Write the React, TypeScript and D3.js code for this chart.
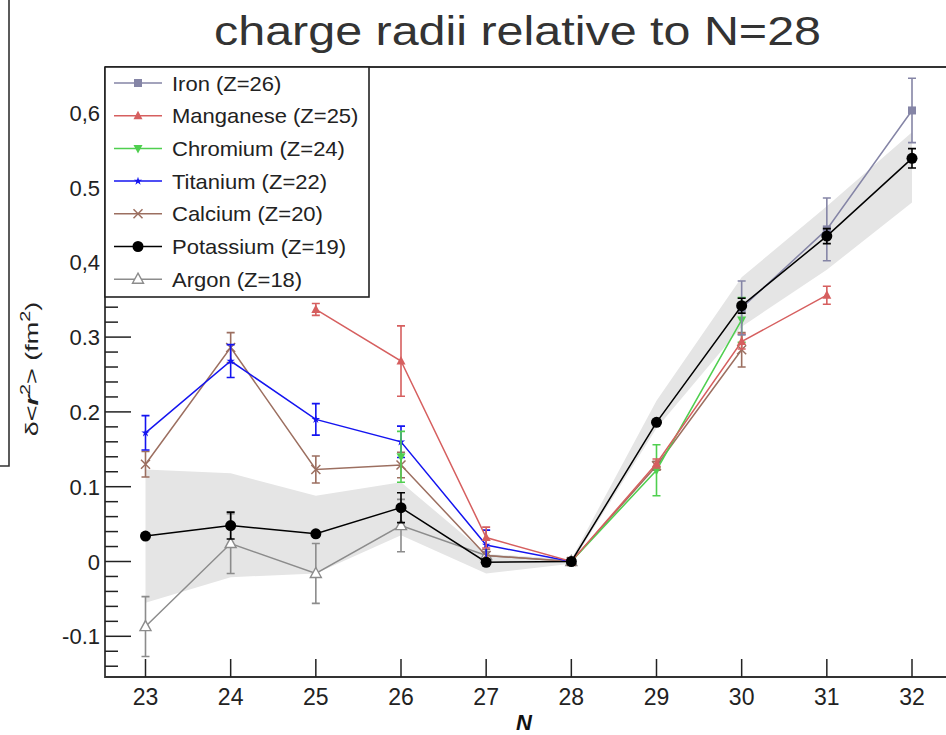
import React from "react";
import * as d3 from "d3";

const ironN = [30, 31, 32];
const ironV = [0.339, 0.444, 0.603];
const ironE = [0.036, 0.042, 0.043];

const mnN = [25, 26, 27, 28, 29, 30, 31];
const mnV = [0.337, 0.268, 0.032, 0, 0.131, 0.294, 0.356];
const mnE = [0.008, 0.047, 0.014, 0, 0.006, 0.01, 0.012];

const crN = [26, 27, 28, 29, 30];
const crV: (number | null)[] = [0.14, null, 0, 0.122, 0.323];
const crE = [0.034, 0, 0, 0.034, 0.03];

const tiN = [23, 24, 25, 26, 27, 28];
const tiV = [0.172, 0.268, 0.19, 0.16, 0.022, 0];
const tiE = [0.023, 0.022, 0.021, 0.021, 0.02, 0];

const caN = [23, 24, 25, 26, 27, 28, 29, 30];
const caV = [0.13, 0.286, 0.123, 0.129, 0.008, 0, 0.128, 0.283];
const caE = [0.017, 0.02, 0.018, 0.017, 0.008, 0, 0.006, 0.023];

const kN = [23, 24, 25, 26, 27, 28, 29, 30, 31, 32];
const kV = [0.034, 0.048, 0.037, 0.072, -0.001, 0, 0.186, 0.342, 0.435, 0.539];
const kE = [0.003, 0.018, 0.003, 0.02, 0.003, 0, 0.003, 0.01, 0.01, 0.013];

const arN = [23, 24, 25, 26, 27, 28];
const arV = [-0.087, 0.024, -0.016, 0.048, 0.008, 0];
const arE = [0.04, 0.04, 0.04, 0.035, 0.005, 0];

const bandN = [23, 24, 25, 26, 27, 28, 29, 30, 31, 32];
const bandHi = [0.123, 0.118, 0.088, 0.106, 0.01, 0.003, 0.215, 0.38, 0.475, 0.574];
const bandLo = [-0.055, -0.021, -0.016, 0.035, -0.016, -0.003, 0.178, 0.314, 0.39, 0.48];

const xTicks = [23, 24, 25, 26, 27, 28, 29, 30, 31, 32];
const yTickVals = [-0.1, 0, 0.1, 0.2, 0.3, 0.4, 0.5, 0.6];
const yTickLabels = ["-0.1", "0", "0.1", "0.2", "0.3", "0,4", "0.5", "0,6"];

const titleText = "charge radii relative to N=28";

type Marker = "square" | "triUp" | "triDown" | "star" | "cross" | "circle" | "openTri";

const series = [
  { name: "Iron (Z=26)", color: "#8585a6", marker: "square" as Marker, n: ironN, v: ironV as (number | null)[], e: ironE, z: 5 },
  { name: "Manganese (Z=25)", color: "#d65f5f", marker: "triUp" as Marker, n: mnN, v: mnV as (number | null)[], e: mnE, z: 4 },
  { name: "Chromium (Z=24)", color: "#4fcf4f", marker: "triDown" as Marker, n: crN, v: crV, e: crE, z: 3 },
  { name: "Titanium (Z=22)", color: "#1414f0", marker: "star" as Marker, n: tiN, v: tiV as (number | null)[], e: tiE, z: 2 },
  { name: "Calcium (Z=20)", color: "#9c6f60", marker: "cross" as Marker, n: caN, v: caV as (number | null)[], e: caE, z: 1 },
  { name: "Potassium (Z=19)", color: "#000000", marker: "circle" as Marker, n: kN, v: kV as (number | null)[], e: kE, z: 6 },
  { name: "Argon (Z=18)", color: "#8c8c8c", marker: "openTri" as Marker, n: arN, v: arV as (number | null)[], e: arE, z: 0 },
];

const FONT = "'Liberation Sans', Arial, Helvetica, sans-serif";

function MarkerShape({ type, x, y, color }: { type: Marker; x: number; y: number; color: string }) {
  switch (type) {
    case "square":
      return <rect x={x - 4} y={y - 4} width={8} height={8} fill={color} />;
    case "triUp":
      return <path d={`M${x},${y - 5}L${x + 4.5},${y + 3.5}L${x - 4.5},${y + 3.5}Z`} fill={color} />;
    case "triDown":
      return <path d={`M${x},${y + 5}L${x + 4.5},${y - 3.5}L${x - 4.5},${y - 3.5}Z`} fill={color} />;
    case "star":
      return <path d={d3.symbol(d3.symbolStar, 22)() || ""} transform={`translate(${x},${y})`} fill={color} />;
    case "cross":
      return (
        <path
          d={`M${x - 4.5},${y - 4.5}L${x + 4.5},${y + 4.5}M${x - 4.5},${y + 4.5}L${x + 4.5},${y - 4.5}`}
          stroke={color}
          strokeWidth={1.5}
        />
      );
    case "circle":
      return <circle cx={x} cy={y} r={5.5} fill={color} />;
    case "openTri":
      return (
        <path
          d={`M${x},${y - 6}L${x + 5.5},${y + 4}L${x - 5.5},${y + 4}Z`}
          fill="#ffffff"
          stroke={color}
          strokeWidth={1.4}
        />
      );
  }
  return null;
}

export default function App() {
  const W = 946;
  const H = 735;
  const left = 105;
  const top = 67;
  const bottom = 677;
  const right = 946;

  const x = d3.scaleLinear().domain([23, 32]).range([145.5, 912]);
  const y = d3.scaleLinear().domain([0, 0.6]).range([561.5, 112.7]);

  const area = d3
    .area<number>()
    .x((d, i) => x(bandN[i]))
    .y0((d, i) => y(bandLo[i]))
    .y1((d, i) => y(bandHi[i]));

  const minorTicks = d3.range(-0.14, 0.661, 0.02).filter(
    (t) => Math.abs(Math.round(t * 10) - t * 10) > 0.01
  );

  const legendRows = series.map((s, i) => ({ ...s, yy: 83 + i * 32.7 }));
  const drawOrder = [...series].sort((a, b) => a.z - b.z);

  return (
    <svg
      width={W}
      height={H}
      style={{ position: "absolute", left: 0, top: 0, background: "#fff" }}
      fontFamily={FONT}
    >
      <rect x={0} y={0} width={W} height={H} fill="#ffffff" />
      {/* left bracket from neighbouring figure */}
      <path d="M9,0L9,466L0,466" fill="none" stroke="#333" strokeWidth={1.6} />

      {/* title */}
      <text x={214} y={45} fontSize={40} fill="#333" textLength={607} lengthAdjust="spacingAndGlyphs">
        {titleText}
      </text>

      {/* band */}
      <path d={area(bandN) || ""} fill="#e5e5e5" />

      {/* axes */}
      <path d={`M${left},${top}L${right},${top}`} stroke="#333" strokeWidth={1.8} />
      <path d={`M${left},${top}L${left},${bottom}L${right},${bottom}`} fill="none" stroke="#333" strokeWidth={1.8} />
      {yTickVals.map((t, i) => (
        <g key={"yt" + i}>
          <line x1={left} x2={left + 26} y1={y(t)} y2={y(t)} stroke="#222" strokeWidth={1.5} />
          <text x={100} y={y(t) + 8} textAnchor="end" fontSize={22} fill="#222">
            {yTickLabels[i]}
          </text>
        </g>
      ))}
      {minorTicks.map((t, i) => (
        <line key={"ym" + i} x1={left} x2={left + 13} y1={y(t)} y2={y(t)} stroke="#222" strokeWidth={1.5} />
      ))}
      {xTicks.map((t) => (
        <g key={"xt" + t}>
          <line x1={x(t)} x2={x(t)} y1={bottom} y2={bottom - 18} stroke="#222" strokeWidth={1.5} />
          <text x={x(t)} y={705} textAnchor="middle" fontSize={23} fill="#222">
            {t}
          </text>
        </g>
      ))}
      <text x={524} y={730} textAnchor="middle" fontSize={22} fontWeight="bold" fontStyle="italic" fill="#111">
        N
      </text>
      <g transform="translate(38,369) rotate(-90) scale(1.42,1)">
        <text x={0} y={0} textAnchor="middle" fontSize={19} fill="#222">
          <tspan>δ&lt;</tspan>
          <tspan fontWeight="bold" fontStyle="italic">r</tspan>
          <tspan dy={-8} fontSize={14}>2</tspan>
          <tspan dy={8}>&gt; (fm</tspan>
          <tspan dy={-8} fontSize={14}>2</tspan>
          <tspan dy={8}>)</tspan>
        </text>
      </g>

      {/* series */}
      {drawOrder.map((s) => {
        const pts = s.n.map((n, i) => ({ n, v: s.v[i], e: s.e[i] }));
        const line = d3
          .line<{ n: number; v: number | null }>()
          .defined((d) => d.v !== null)
          .x((d) => x(d.n))
          .y((d) => y(d.v as number));
        return (
          <g key={s.name}>
            <path d={line(pts) || ""} fill="none" stroke={s.color} strokeWidth={1.5} />
            {pts
              .filter((p) => p.v !== null && p.e > 0.004)
              .map((p, i) => {
                const cx = x(p.n);
                const y1 = y((p.v as number) + p.e);
                const y2 = y((p.v as number) - p.e);
                return (
                  <path
                    key={i}
                    d={`M${cx},${y1}L${cx},${y2}M${cx - 4},${y1}L${cx + 4},${y1}M${cx - 4},${y2}L${cx + 4},${y2}`}
                    stroke={s.color}
                    strokeWidth={1.6}
                    fill="none"
                  />
                );
              })}
            {pts
              .filter((p) => p.v !== null)
              .map((p, i) => (
                <MarkerShape key={"m" + i} type={s.marker} x={x(p.n)} y={y(p.v as number)} color={s.color} />
              ))}
          </g>
        );
      })}

      {/* legend */}
      <rect x={105} y={67} width={264} height={230} fill="#ffffff" stroke="#222" strokeWidth={1.6} />
      {legendRows.map((r) => (
        <g key={"lg" + r.name}>
          <line x1={114} x2={162} y1={r.yy} y2={r.yy} stroke={r.color} strokeWidth={1.5} />
          <MarkerShape type={r.marker} x={138} y={r.yy} color={r.color} />
          <g transform={`translate(172,${r.yy + 7.5}) scale(1.1,1)`}>
            <text x={0} y={0} fontSize={20} fill="#222">
              {r.name}
            </text>
          </g>
        </g>
      ))}
    </svg>
  );
}
